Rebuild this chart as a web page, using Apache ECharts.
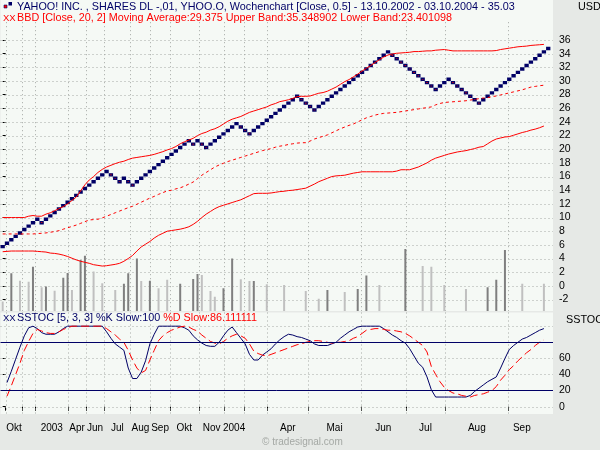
<!DOCTYPE html>
<html><head><meta charset="utf-8">
<script src="https://cdn.jsdelivr.net/npm/echarts@6/dist/echarts.min.js"></script>
<style>html,body{margin:0;padding:0;background:#e6e9e6;}#c{width:600px;height:450px;}</style>
</head><body><div id="c"></div><script>
// Renko bricks (box size 0.5), centre value of each brick
const brickPrices = [5.75,6.25,6.75,7.25,7.75,8.25,8.75,9.25,9.75,
 9.25,
 9.75,10.25,10.75,11.25,11.75,12.25,12.75,13.25,13.75,14.25,14.75,15.25,15.75,16.25,16.75,
 16.25,15.75,15.25,
 15.75,
 15.25,14.75,
 15.25,15.75,16.25,16.75,17.25,17.75,18.25,18.75,19.25,19.75,20.25,20.75,21.25,
 20.75,
 21.25,
 20.75,20.25,
 20.75,21.25,21.75,22.25,22.75,23.25,23.75,
 23.25,22.75,22.25,
 22.75,23.25,23.75,24.25,24.75,25.25,25.75,26.25,26.75,27.25,27.75,
 27.25,26.75,26.25,25.75,
 26.25,26.75,27.25,27.75,28.25,28.75,29.25,29.75,30.25,30.75,31.25,31.75,32.25,32.75,33.25,33.75,34.25,
 33.75,33.25,32.75,32.25,31.75,31.25,30.75,30.25,29.75,29.25,28.75,
 29.25,29.75,30.25,
 29.75,29.25,28.75,28.25,27.75,27.25,26.75,
 27.25,27.75,28.25,28.75,29.25,29.75,30.25,30.75,31.25,31.75,32.25,32.75,33.25,33.75,34.25,34.75];

const upperBand = [10.0,10.0,10.0,10.0,10.0,10.0,10.2,10.3,10.2,10.2,
 10.5,10.7,11.0,11.3,11.6,12.0,12.5,13.0,13.9,14.8,
 15.5,16.0,16.6,17.05,17.4,17.65,17.9,18.1,18.25,18.5,
 18.7,18.8,18.9,19.0,19.1,19.25,19.45,19.65,19.9,20.1,
 20.4,20.8,21.1,21.35,21.6,22.0,22.3,22.5,22.8,23.0,
 23.3,23.7,24.1,24.4,24.6,24.8,25.1,25.4,25.6,25.8,
 26.0,26.2,26.5,26.7,26.97,27.1,27.25,27.45,27.7,27.75,
 27.75,27.8,28.0,28.2,28.3,28.5,28.8,29.1,29.5,29.9,
 30.2,30.6,31.0,31.45,31.85,32.25,32.7,33.1,33.5,33.8,
 33.95,34.05,34.1,34.15,34.2,34.3,34.3,34.35,34.4,34.4,
 34.5,34.55,34.6,34.5,34.4,34.4,34.4,34.4,34.4,34.4,
 34.4,34.4,34.4,34.4,34.45,34.6,34.7,34.8,34.9,35.0,
 35.05,35.1,35.2,35.25,35.3,35.35];

const movingAvg = [7.6,7.6,7.6,7.6,7.6,7.6,7.6,7.6,7.65,7.7,
 7.75,7.85,7.95,8.08,8.3,8.5,8.7,8.9,9.15,9.4,
 9.65,9.7,9.75,9.95,10.2,10.45,10.7,10.95,11.2,11.45,
 11.65,11.95,12.25,12.55,12.85,13.1,13.4,13.65,13.9,14.0,
 14.2,14.35,14.6,14.9,15.2,15.7,16.2,16.6,17.0,17.4,
 17.7,17.95,18.2,18.4,18.6,18.8,19.0,19.2,19.4,19.6,
 19.8,19.95,20.1,20.3,20.45,20.55,20.7,20.8,20.9,20.95,
 20.96,21.2,21.5,21.7,21.9,22.1,22.4,22.7,23.0,23.25,
 23.5,23.7,24.0,24.3,24.6,24.8,25.0,25.15,25.25,25.3,
 25.35,25.4,25.5,25.6,25.7,25.8,25.9,26.0,26.1,26.2,
 26.5,26.7,26.85,26.9,26.95,27.0,27.05,27.1,27.2,27.3,
 27.4,27.5,27.55,27.7,27.8,27.95,28.1,28.25,28.4,28.55,
 28.7,28.9,29.1,29.2,29.3,29.375];

const lowerBand = [5.0,5.05,5.1,5.1,5.1,5.1,5.1,5.1,5.05,5.0,
 4.95,4.8,4.75,4.65,4.5,4.3,4.05,3.8,3.6,3.45,
 3.3,3.1,3.0,2.9,2.95,3.05,3.15,3.3,3.6,4.0,
 4.45,5.1,5.7,6.1,6.5,7.0,7.4,7.7,8.0,8.1,
 8.2,8.3,8.45,8.65,9.0,9.45,10.0,10.5,10.9,11.3,
 11.6,11.8,12.0,12.2,12.4,12.6,12.9,13.2,13.5,13.55,
 13.55,13.55,13.6,13.7,13.8,13.85,13.95,14.0,14.1,14.2,
 14.3,14.6,14.9,15.25,15.5,15.75,16.0,16.1,16.15,16.2,
 16.35,16.5,16.6,16.7,16.7,16.7,16.7,16.7,16.7,16.7,
 16.7,16.8,17.0,17.0,17.0,17.2,17.4,17.7,18.0,18.4,
 18.7,18.9,19.1,19.3,19.45,19.6,19.7,19.8,19.95,20.1,
 20.3,20.4,20.8,21.2,21.5,21.65,21.8,21.85,22.05,22.25,
 22.45,22.6,22.8,22.95,23.15,23.4];

const stochK = [null,30,44,59,74,88,98,100,97,92,
 90,90,90,93,97,100,100,100,100,100,
 100,100,100,100,93,85,78,74,70,48,
 35,35,43,57,78,90,100,100,100,100,
 100,100,98,95,88,83,79,76,75,75,
 80,88,95,99,92,85,78,65,58,58,
 64,68,72,78,83,87,90,89,87,86,
 84,82,78,76,76,76,78,80,85,89,
 93,96,99,100,100,100,100,100,97,93,
 89,86,82,79,72,63,54,49,37,21,
 12,12,12,12,12,12,12,12,14,19,
 23,27,31,34,37,48,60,71,76,80,
 84,86,89,92,95,97];

const stochD = [null,13,26,40,54,70,81,91,96,94,
 92,91,91,93,96,98,100,100,100,100,
 100,100,100,100,97,93,89,84,80,70,
 58,48,42,45,58,70,82,88,92,95,
 97,99,100,99,96,94,89,85,81,79,
 78,81,85,88,90,88,85,78,69,66,
 64,63,65,67,69,71,73,75,77,78,
 80,81,82,82,81,80,79,80,80,81,
 82,85,87,91,95,96,97,97,96,95,
 95,94,93,91,88,84,80,76,68,50,
 40,31,24,20,17,16,14,13,12,14,
 15,16,18,20,25,33,39,46,51,57,
 62,67,71,76,80,83];

// histogram bars in the price pane: brick index, value, dark(1)/light(0)
const histIdx  = [0,2,4,6,7,9,10,12,14,15,16,18,19,21,23,26,28,29,31,32,34,36,38,41,44,45,46,48,49,51,53,55,57,58,61,65,70,73,75,79,82,84,87,93,97,99,102,107,112,114,116,120,125];
const histVal  = [-2.3,1.85,0.76,0.6,2.8,-0.2,-0.1,-0.7,1.2,1.9,-0.6,3.8,4.4,2.1,0.4,-0.6,0.3,1.85,4.0,0.7,0.75,-0.35,0.9,0.3,1.0,1.74,1.6,-0.75,-1.6,-0.35,4.0,0.96,0.7,0.7,0.23,0.13,-0.75,-1.9,-0.6,-0.9,-0.45,1.5,0.13,5.4,2.9,2.8,0.13,-0.45,-0.2,0.9,5.25,0.3,0.3];
const histDark = [0,1,0,0,1,0,1,0,1,1,0,1,1,0,0,0,1,1,1,0,1,0,0,1,1,1,0,0,0,1,1,0,0,1,0,0,0,0,1,0,1,1,0,1,0,0,0,0,1,1,1,0,0];

const priceTicks = [-2,0,2,4,6,8,10,12,14,16,18,20,22,24,26,28,30,32,34,36];
const stochGridTicks = [0,20,40,60,80,100];
const stochLabelTicks = [0,20,40,60];
const stochLevels = [20,80];
const monthStarts = [0.7,4.5,7.5,15.2,19.2,23.5,29.5,34.1,38.6,45.3,51.2,55.7,61.1,70.6,82.7,93.1,102.2,116.8];
const monthLabels = ['Okt','','2003','Apr','Jun','Jul','Aug','Sep','Okt','Nov','2004','','Apr','Mai','Jun','Jul','Aug','Sep'];
const lastPeriodEnd = 123;

const priceMin = -3.68, priceMax = 38.6;
const stochMin = -9.07, stochMax = 117;
const xMin = -0.5, xMax = 127.1;
const NAVY = '#000066', RED = '#ff0000';
const FAM = '"Liberation Sans", Arial, sans-serif';
const FONT = '10.8px ' + FAM;

const labelPos = [], labelText = [];
monthStarts.forEach((s, i) => {
  const e = i + 1 < monthStarts.length ? monthStarts[i + 1] : lastPeriodEnd;
  if (monthLabels[i]) { labelPos.push((s + e) / 2); labelText.push(monthLabels[i]); }
});

const brickData = brickPrices.map((v, i) => [i, v, i > 0 && v < brickPrices[i - 1] ? 1 : 0]);
const histData = histIdx.map((x, i) => [x, histVal[i], histDark[i]]);
const toXY = arr => arr.map((v, i) => [i, v]);

// grid line items: [value, 0 = vertical (x value) / 1 = horizontal (y value)]
const gridData = (xs, ys) => xs.map(v => [v, 0]).concat(ys.map(v => [v, 1]));
const gridRender = (params, api) => {
  const cs = params.coordSys;
  const v = api.value(0), horiz = api.value(1);
  let shape;
  if (horiz) {
    const y = Math.round(api.coord([0, v])[1]) + 0.5;
    shape = { x1: cs.x, y1: y, x2: cs.x + cs.width, y2: y };
  } else {
    const x = Math.round(api.coord([v, 0])[0]) + 0.5;
    shape = { x1: x, y1: cs.y, x2: x, y2: cs.y + cs.height };
  }
  return { type: 'line', shape, silent: true, style: { stroke: '#a4a8a4', lineWidth: 1, lineDash: [1, 3] } };
};

const chart = echarts.init(document.getElementById('c'), null, { renderer: 'canvas' });
chart.setOption({
  animation: false,
  backgroundColor: '#e6e9e6',
  textStyle: { fontFamily: FAM },
  grid: [
    { left: 0.5, right: 47, top: 22.2, bottom: 139, show: false, outerBoundsMode: 'none' },
    { left: 0.5, right: 47, top: 312.5, bottom: 36, show: false, outerBoundsMode: 'none' }
  ],
  xAxis: [
    { gridIndex: 0, type: 'value', min: xMin, max: xMax,
      axisLine: { show: false }, axisTick: { show: false }, axisLabel: { show: false }, splitLine: { show: false } },
    { gridIndex: 1, type: 'value', min: xMin, max: xMax, offset: 3,
      axisLine: { show: false },
      axisTick: { show: true, length: 4, customValues: monthStarts, lineStyle: { color: '#000', width: 1 } },
      axisLabel: { show: true, customValues: labelPos, margin: 6, color: '#000', fontSize: 10,
        formatter: v => { const k = labelPos.findIndex(p => Math.abs(p - v) < 1e-6); return k >= 0 ? labelText[k] : ''; } },
      splitLine: { show: false } }
  ],
  yAxis: [
    { gridIndex: 0, type: 'value', position: 'right', min: priceMin, max: priceMax,
      axisLine: { show: false },
      axisTick: { show: true, length: 3, customValues: priceTicks, lineStyle: { color: '#000' } },
      axisLabel: { customValues: priceTicks, margin: 6, color: '#000', fontSize: 10.5 },
      splitLine: { show: false } },
    { gridIndex: 1, type: 'value', position: 'right', min: stochMin, max: stochMax,
      axisLine: { show: false },
      axisTick: { show: true, length: 3, customValues: stochLabelTicks, lineStyle: { color: '#000' } },
      axisLabel: { customValues: stochLabelTicks, margin: 6, color: '#000', fontSize: 10.5 },
      splitLine: { show: false } }
  ],
  series: [
    { type: 'custom', name: 'grid-main', xAxisIndex: 0, yAxisIndex: 0, silent: true,
      data: gridData(monthStarts, priceTicks), encode: { x: 0, y: 0 }, renderItem: gridRender },
    { type: 'custom', name: 'grid-stoch', xAxisIndex: 1, yAxisIndex: 1, silent: true,
      data: gridData(monthStarts, stochGridTicks.filter(v => stochLevels.indexOf(v) < 0)), encode: { x: 0, y: 0 }, renderItem: gridRender },
    { type: 'custom', name: 'hist', xAxisIndex: 0, yAxisIndex: 0, data: histData, clip: true,
      encode: { x: 0, y: 1 },
      renderItem: (params, api) => {
        const x = api.value(0), v = api.value(1), dark = api.value(2);
        const top = api.coord([x, v]), base = api.coord([x, priceMin]);
        return { type: 'rect', shape: { x: top[0] - 1, y: top[1], width: 2, height: base[1] - top[1] },
          style: { fill: dark ? '#7f7f7f' : '#c0c0c0' } };
      } },
    { type: 'line', name: 'Upper Band', xAxisIndex: 0, yAxisIndex: 0, data: toXY(upperBand), showSymbol: false,
      lineStyle: { color: RED, width: 1 } },
    { type: 'line', name: 'Moving Average', xAxisIndex: 0, yAxisIndex: 0, data: toXY(movingAvg), showSymbol: false,
      lineStyle: { color: RED, width: 1, type: [3, 3] } },
    { type: 'line', name: 'Lower Band', xAxisIndex: 0, yAxisIndex: 0, data: toXY(lowerBand), showSymbol: false,
      lineStyle: { color: RED, width: 1 } },
    { type: 'custom', name: 'bricks', xAxisIndex: 0, yAxisIndex: 0, data: brickData, clip: true,
      encode: { x: 0, y: 1 },
      renderItem: (params, api) => {
        const i = api.value(0), v = api.value(1), down = api.value(2);
        const p1 = api.coord([i - 0.5, v + 0.25]), p2 = api.coord([i + 0.5, v - 0.25]);
        const shape = { x: p1[0], y: p1[1], width: p2[0] - p1[0], height: p2[1] - p1[1] };
        if (down) {
          return { type: 'rect', shape: { x: shape.x + 0.7, y: shape.y + 0.7, width: shape.width - 1.4, height: shape.height - 1.4 },
            style: { fill: RED, stroke: NAVY, lineWidth: 1.4 } };
        }
        return { type: 'rect', shape, style: { fill: NAVY } };
      } },
    { type: 'line', name: '%K Slow', xAxisIndex: 1, yAxisIndex: 1, data: toXY(stochK), showSymbol: false,
      lineStyle: { color: NAVY, width: 1 },
      markLine: { silent: true, symbol: 'none', label: { show: false },
        lineStyle: { color: NAVY, width: 1, type: 'solid' },
        data: stochLevels.map(v => ({ yAxis: v })) } },
    { type: 'line', name: '%D Slow', xAxisIndex: 1, yAxisIndex: 1, data: toXY(stochD), showSymbol: false,
      lineStyle: { color: RED, width: 1, type: [8, 4] } }
  ],
  graphic: [
    { type: 'rect', z: -10, silent: true, shape: { x: 0.5, y: 0, width: 552.5, height: 311 }, style: { fill: '#f5f9f5' } },
    { type: 'rect', z: -10, silent: true, shape: { x: 0.5, y: 312.5, width: 552.5, height: 101.5 }, style: { fill: '#f5f9f5' } },
    { type: 'rect', z: 10, shape: { x: 4, y: 5, width: 3, height: 3 }, style: { fill: RED, stroke: NAVY, lineWidth: 0.6 } },
    { type: 'rect', z: 10, shape: { x: 8.5, y: 2, width: 3.5, height: 3.5 }, style: { fill: NAVY } },
    { type: 'text', z: 10, style: { x: 17, y: 7.5, verticalAlign: 'middle', font: FONT, fill: NAVY,
      text: 'YAHOO! INC. , SHARES DL -,01, YHOO.O, Wochenchart [Close, 0.5] - 13.10.2002 - 03.10.2004 - 35.03' } },
    { type: 'text', z: 10, style: { x: 578, y: 7.5, verticalAlign: 'middle', font: FONT, fill: '#000', text: 'USD' } },
    { type: 'text', z: 10, style: { x: 3, y: 18.5, verticalAlign: 'middle', font: '9.5px ' + FAM, fill: RED, text: 'XX' } },
    { type: 'text', z: 10, style: { x: 17, y: 18.5, verticalAlign: 'middle', font: FONT, fill: RED,
      text: 'BBD [Close, 20, 2] Moving Average:29.375 Upper Band:35.348902 Lower Band:23.401098' } },
    { type: 'text', z: 10, style: { x: 3, y: 318.5, verticalAlign: 'middle', font: '9.5px ' + FAM, fill: NAVY, text: 'XX' } },
    { type: 'text', z: 10, style: { x: 17, y: 318.5, verticalAlign: 'middle', font: FONT,
      text: '{n|SSTOC [5, 3, 3] %K Slow:100} {r|%D Slow:86.111111}',
      rich: { n: { fill: NAVY, font: FONT }, r: { fill: RED, font: FONT } } } },
    { type: 'text', z: 10, style: { x: 566, y: 320.5, verticalAlign: 'middle', font: FONT, fill: '#000', text: 'SSTOC' } },
    { type: 'text', z: 10, style: { x: 262, y: 442, verticalAlign: 'middle', font: '10px ' + FAM, fill: '#a4a8a4', text: '© tradesignal.com' } }
  ]
});
</script></body></html>
